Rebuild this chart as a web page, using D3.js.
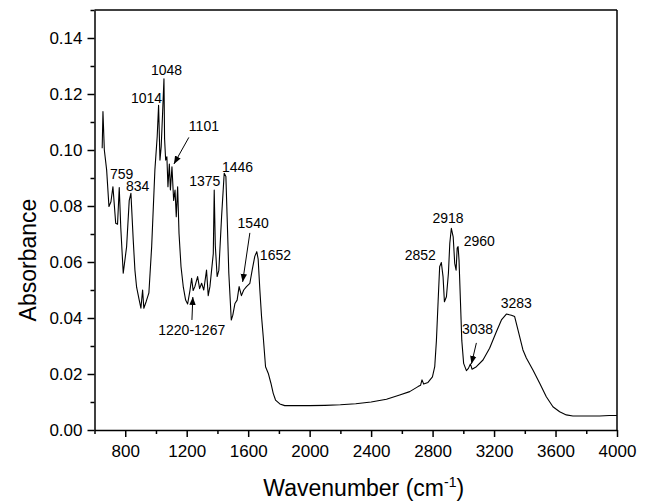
<!DOCTYPE html>
<html>
<head>
<meta charset="utf-8">
<script src="https://cdn.jsdelivr.net/npm/d3@7"></script>
<style>
  body { margin: 0; background: #fff; }
  text { font-family: Arial, "Liberation Sans", sans-serif; fill: #000; }
</style>
</head>
<body>
<div id="chart"></div>
<script>
// spectrum: [wavenumber, absorbance]
var spectrum = [
  [650, 0.1006], [655, 0.1137], [664, 0.100], [679, 0.0929], [694, 0.0798],
  [707, 0.0815], [720, 0.0869], [738, 0.0738], [750, 0.0735], [761, 0.0866],
  [771, 0.0722], [787, 0.056], [809, 0.0655], [826, 0.082], [837, 0.0845],
  [852, 0.0679], [863, 0.0571], [874, 0.051], [891, 0.0464], [902, 0.0435],
  [913, 0.050], [921, 0.0435], [937, 0.046], [954, 0.049], [972, 0.0655],
  [993, 0.0929], [1008, 0.1048], [1017, 0.116], [1026, 0.0964], [1034, 0.1012],
  [1043, 0.113], [1052, 0.1254], [1056, 0.104], [1063, 0.0964], [1071, 0.0976],
  [1078, 0.0869], [1087, 0.095], [1094, 0.0857], [1104, 0.094], [1115, 0.082],
  [1124, 0.0857], [1132, 0.0762], [1141, 0.0869], [1150, 0.0702], [1163, 0.0583],
  [1178, 0.051], [1193, 0.0464], [1206, 0.045], [1221, 0.0498], [1232, 0.0542],
  [1242, 0.0498], [1253, 0.0512], [1271, 0.0548], [1284, 0.0505], [1297, 0.0524],
  [1311, 0.050], [1329, 0.0571], [1340, 0.048], [1351, 0.0512], [1362, 0.0571],
  [1373, 0.063], [1379, 0.0857], [1386, 0.066], [1398, 0.0548], [1409, 0.057],
  [1427, 0.0762], [1444, 0.0917], [1455, 0.0905], [1463, 0.0762], [1474, 0.056],
  [1490, 0.0393], [1500, 0.041], [1514, 0.0452], [1528, 0.0464], [1541, 0.0512],
  [1556, 0.048], [1571, 0.050], [1589, 0.0512], [1611, 0.0524], [1626, 0.0571],
  [1643, 0.062], [1656, 0.0637], [1665, 0.061], [1676, 0.050], [1687, 0.0405],
  [1698, 0.0333], [1713, 0.0226], [1731, 0.0202], [1748, 0.0167], [1763, 0.0131],
  [1778, 0.0107], [1806, 0.0093], [1838, 0.0087], [1900, 0.0087], [2000, 0.0087],
  [2100, 0.0088], [2200, 0.0090], [2300, 0.0094], [2400, 0.0100], [2500, 0.0110],
  [2586, 0.0125], [2651, 0.0137], [2705, 0.0155], [2722, 0.016], [2731, 0.0179],
  [2742, 0.0164], [2770, 0.017], [2799, 0.019], [2814, 0.0226], [2825, 0.032],
  [2836, 0.046], [2846, 0.0583], [2857, 0.0598], [2868, 0.0548], [2877, 0.0458],
  [2890, 0.0476], [2903, 0.056], [2912, 0.0667], [2922, 0.072], [2934, 0.069],
  [2944, 0.0595], [2953, 0.0571], [2960, 0.065], [2966, 0.0655], [2972, 0.0607],
  [2981, 0.0464], [2990, 0.032], [3002, 0.0238], [3020, 0.0212], [3033, 0.022],
  [3046, 0.0236], [3057, 0.0217], [3085, 0.0226], [3128, 0.025], [3171, 0.0292],
  [3215, 0.0351], [3248, 0.0393], [3280, 0.0414], [3313, 0.041], [3334, 0.0405],
  [3356, 0.0357], [3388, 0.0286], [3410, 0.0257], [3453, 0.0214], [3497, 0.0167],
  [3540, 0.0119], [3583, 0.0083], [3627, 0.0065], [3670, 0.0054], [3713, 0.005],
  [3800, 0.005], [3887, 0.005], [3950, 0.0052], [4000, 0.0052]
];

var xTicks = [800, 1200, 1600, 2000, 2400, 2800, 3200, 3600, 4000];
var xMinorTicks = [600, 1000, 1400, 1800, 2200, 2600, 3000, 3400, 3800];
var yTicks = [0.00, 0.02, 0.04, 0.06, 0.08, 0.10, 0.12, 0.14];
var yMinorTicks = [0.01, 0.03, 0.05, 0.07, 0.09, 0.11, 0.13, 0.15];

// peak labels: text, label anchor [wavenumber, absorbance]
var peakText = ["759", "834", "1014", "1048", "1101", "1375", "1446", "1540", "1652",
                "1220-1267", "2852", "2918", "2960", "3038", "3283"];
var peakAt = [[701, 0.0896], [805, 0.0854], [837, 0.1168], [967, 0.1268], [1214, 0.1068],
              [1216, 0.0871], [1429, 0.0921], [1531, 0.0721], [1676, 0.0607],
              [1015, 0.0339], [2619, 0.0607], [2799, 0.074], [3002, 0.0657],
              [2991, 0.0343], [3243, 0.0435]];

// arrows: [from, to] in data units
var arrows = [
  [[1214, 0.1045], [1117, 0.0950]],
  [[1234, 0.0393], [1240, 0.0475]],
  [[1611, 0.0704], [1564, 0.0529]],
  [[3085, 0.0311], [3053, 0.0236]]
];

var svgWidth = 650;
var svgHeight = 502;
var margin = { top: 10, right: 33, bottom: 72, left: 94.5 };
var width = svgWidth - margin.left - margin.right;
var height = svgHeight - margin.top - margin.bottom;

var svg = d3.select("#chart")
  .append("svg")
  .attr("width", svgWidth)
  .attr("height", svgHeight);

svg.append("defs").append("marker")
  .attr("id", "head")
  .attr("viewBox", "0 0 10 10")
  .attr("refX", 10)
  .attr("refY", 5)
  .attr("markerWidth", 8)
  .attr("markerHeight", 8)
  .attr("markerUnits", "userSpaceOnUse")
  .attr("orient", "auto")
  .append("path")
  .attr("d", "M0,1 L10,5 L0,9 Z")
  .attr("fill", "#000");

var chartGroup = svg.append("g")
  .attr("transform", `translate(${margin.left}, ${margin.top})`);

var xScale = d3.scaleLinear().domain([600, 4000]).range([0, width]);
var yScale = d3.scaleLinear().domain([0, 0.15]).range([height, 0]);

// frame (top and right)
chartGroup.append("line")
  .attr("x1", 0).attr("x2", width).attr("y1", 0).attr("y2", 0)
  .attr("stroke", "#000").attr("stroke-width", 1.5);
chartGroup.append("line")
  .attr("x1", width).attr("x2", width).attr("y1", 0).attr("y2", height)
  .attr("stroke", "#000").attr("stroke-width", 1.5);

// minor ticks
chartGroup.append("g")
  .attr("transform", `translate(0, ${height})`)
  .call(d3.axisBottom(xScale).tickValues(xMinorTicks).tickSize(4).tickFormat(""))
  .call(g => g.select(".domain").remove());
chartGroup.append("g")
  .call(d3.axisLeft(yScale).tickValues(yMinorTicks).tickSize(4).tickFormat(""))
  .call(g => g.select(".domain").remove());

// major axes
var xAxis = chartGroup.append("g")
  .attr("transform", `translate(0, ${height})`)
  .call(d3.axisBottom(xScale).tickValues(xTicks).tickSize(7).tickSizeOuter(0).tickPadding(8)
    .tickFormat(d3.format("d")));
var yAxis = chartGroup.append("g")
  .call(d3.axisLeft(yScale).tickValues(yTicks).tickSize(7).tickSizeOuter(0).tickPadding(5)
    .tickFormat(d3.format(".2f")));

[xAxis, yAxis].forEach(function (ax) {
  ax.select(".domain").attr("stroke-width", 1.5);
  ax.selectAll(".tick text")
    .attr("font-family", "Arial, 'Liberation Sans', sans-serif")
    .attr("font-size", "17px");
});
chartGroup.selectAll(".tick line").attr("stroke-width", 1.5);

// spectrum line
var line = d3.line()
  .x(d => xScale(d[0]))
  .y(d => yScale(d[1]));

chartGroup.append("path")
  .datum(spectrum)
  .attr("d", line)
  .attr("fill", "none")
  .attr("stroke", "#000")
  .attr("stroke-width", 1.1)
  .attr("stroke-linejoin", "round");

// peak labels
chartGroup.selectAll(".peak")
  .data(peakText)
  .enter()
  .append("text")
  .classed("peak", true)
  .attr("x", (d, i) => xScale(peakAt[i][0]))
  .attr("y", (d, i) => yScale(peakAt[i][1]))
  .attr("font-size", "14px")
  .text(d => d);

// arrows
chartGroup.selectAll(".arrow")
  .data(arrows)
  .enter()
  .append("line")
  .classed("arrow", true)
  .attr("x1", d => xScale(d[0][0]))
  .attr("y1", d => yScale(d[0][1]))
  .attr("x2", d => xScale(d[1][0]))
  .attr("y2", d => yScale(d[1][1]))
  .attr("stroke", "#000")
  .attr("stroke-width", 1)
  .attr("marker-end", "url(#head)");

// axis titles
chartGroup.append("text")
  .attr("transform", "rotate(-90)")
  .attr("x", 0 - height / 2 - 40)
  .attr("y", 0 - margin.left + 36)
  .attr("text-anchor", "middle")
  .attr("font-size", "23px")
  .text("Absorbance");

var xTitle = chartGroup.append("text")
  .attr("x", width / 2 + 8)
  .attr("y", height + 66)
  .attr("text-anchor", "middle")
  .attr("font-size", "23px");
xTitle.append("tspan").text("Wavenumber (cm");
xTitle.append("tspan").attr("dy", -9).attr("font-size", "14px").text("-1");
xTitle.append("tspan").attr("dy", 9).text(")");
</script>
</body>
</html>
